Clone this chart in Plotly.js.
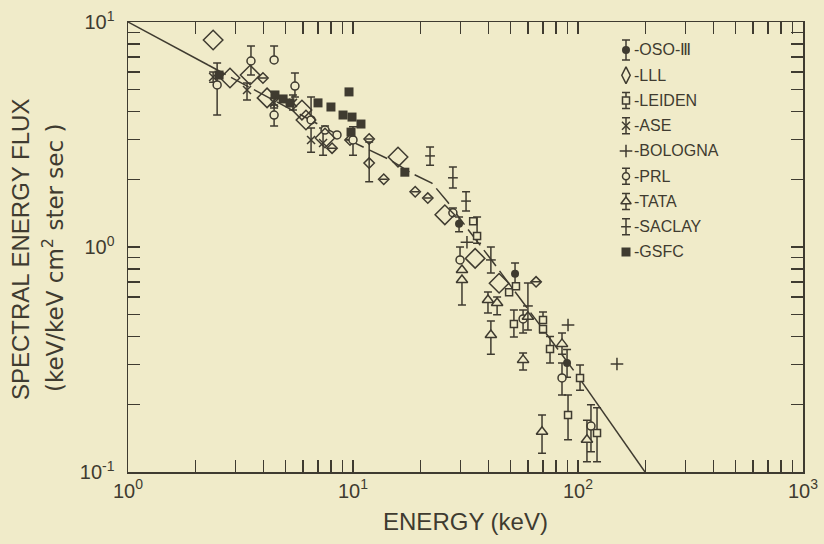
<!DOCTYPE html>
<html>
<head>
<meta charset="utf-8">
<script src="https://cdn.plot.ly/plotly-3.0.1.min.js"></script>
<style>
  html, body { margin: 0; padding: 0; background: #f0ebc9; }
  #chart { width: 824px; height: 544px; }
</style>
</head>
<body>
<div id="chart"></div>
<script>
// Cosmic X-ray background spectrum: energy flux vs photon energy (log-log)

// Fitted spectrum curve
const curveE = [1, 2.27, 8.58, 14.6, 18.5, 22.4, 26.4, 33.1, 40.6, 99.0, 198.5];
const curveF = [10, 6.44, 3.15, 2.44, 2.11, 1.925, 1.58, 1.166, 0.894, 0.27, 0.1];

// OSO-III
const osoE = [29.6, 52.5, 89.4];
const osoF = [1.27, 0.76, 0.305];
const osoHi = [1.36, 0.85, 0.35];
const osoLo = [1.17, 0.66, 0.264];

// LLL (small symbols)
const lllE = [3.98, 8.07, 9.7, 11.8, 11.8, 13.7, 18.9, 21.5, 65.1];
const lllF = [5.64, 2.75, 2.99, 3.02, 2.36, 2.0, 1.76, 1.65, 0.70];
const lllHi = [null, null, null, null, 2.93, null, null, null, null];
const lllLo = [null, null, null, null, 1.95, null, null, null, null];

// LLL (large symbols)
const lllBigE = [2.39, 2.84, 3.49, 4.15, 5.93, 6.18, 7.51, 15.85, 25.6, 34.9, 44.6];
const lllBigF = [8.32, 5.64, 5.81, 4.6, 4.06, 3.67, 3.05, 2.51, 1.39, 0.89, 0.69];

// LEIDEN
const leidenE = [34.2, 35.6, 49.4, 53.0, 51.9, 69.9, 69.9, 75.1, 102.1, 90.3, 121.5];
const leidenF = [1.30, 1.12, 0.63, 0.67, 0.455, 0.474, 0.432, 0.352, 0.262, 0.179, 0.149];
const leidenHi = [null, 1.36, null, null, 0.525, 0.514, 0.432, 0.40, 0.299, 0.22, 0.193];
const leidenLo = [null, 1.04, null, null, 0.398, 0.474, 0.415, 0.305, 0.231, 0.139, 0.111];

// ASE
const aseE = [2.39, 3.38, 4.46, 5.41, 6.51, 7.36];
const aseF = [5.70, 4.99, 4.37, 4.37, 2.99, 2.90];
const aseHi = [6.0, 5.36, 4.6, 4.74, 3.38, 3.38];
const aseLo = [5.4, 4.5, 4.15, 4.06, 2.64, 2.56];

// BOLOGNA
const bolE = [32.1, 90.3, 149.0];
const bolF = [1.05, 0.45, 0.302];

// PRL
const prlE = [2.49, 3.52, 4.46, 4.46, 5.52, 6.51, 7.51, 8.49, 10.0, 27.8, 29.9, 57.0, 84.9, 114.2];
const prlF = [5.25, 6.71, 6.78, 3.86, 5.19, 3.67, 3.31, 3.15, 2.99, 1.42, 0.876, 0.479, 0.262, 0.160];
const prlHi = [6.58, 7.83, 7.83, 4.28, 5.93, 4.64, 3.45, null, 3.42, 1.49, 1.0, 0.525, 0.305, 0.199];
const prlLo = [3.86, 5.81, 6.78, 3.45, 4.64, 3.67, 3.31, null, 2.56, 1.42, 0.876, 0.415, 0.22, 0.123];

// TATA
const tataE = [30.5, 30.5, 39.8, 43.7, 41.0, 57.0, 59.9, 84.9, 69.2, 109.6];
const tataF = [0.79, 0.713, 0.581, 0.564, 0.406, 0.315, 0.49, 0.371, 0.151, 0.139];
const tataHi = [null, 0.713, 0.631, 0.60, 0.469, 0.338, null, 0.415, 0.179, 0.17];
const tataLo = [null, 0.553, 0.509, 0.50, 0.334, 0.284, null, 0.334, 0.121, 0.111];

// SACLAY
const saclayE = [22.0, 27.8, 31.8, 41.0, 59.9];
const saclayF = [2.54, 2.03, 1.60, 0.876, 0.547];
const saclayHi = [2.78, 2.27, 1.76, 1.0, 0.692];
const saclayLo = [2.31, 1.83, 1.445, 0.766, 0.428];

// GSFC
const gsfcE = [2.54, 4.5, 4.89, 5.25, 6.99, 7.98, 9.03, 9.6, 9.9, 10.85, 9.8, 17.0];
const gsfcF = [5.81, 4.74, 4.55, 4.365, 4.37, 4.19, 3.86, 4.89, 3.78, 3.52, 3.24, 2.15];

// Key entries, top to bottom
const keyNames = ['-OSO-Ⅲ', '-LLL', '-LEIDEN', '-ASE', '-BOLOGNA', '-PRL', '-TATA', '-SACLAY', '-GSFC'];

// Axis ticks: labelled decades plus unlabelled minor ticks
const xTickVals = [1, 10, 100, 1000];
const xTickText = ['10<sup>0</sup>', '10<sup>1</sup>', '10<sup>2</sup>', '10<sup>3</sup>'];
const xMinorVals = [2,3,4,5,6,7,8,9,20,30,40,50,60,70,80,90,200,300,400,500,600,700,800,900];
const yTickVals = [0.1, 1, 10];
const yTickText = ['10<sup>-1</sup>', '10<sup>0</sup>', '10<sup>1</sup>'];
const yMinorVals = [0.2,0.3,0.4,0.5,0.6,0.7,0.8,0.9,2,3,4,5,6,7,8,9];

const INK = '#3f3b30';
const BG = '#f0ebc9';
const FONT = 'Liberation Sans, Arial, sans-serif';

// plot frame in pixels (used for the key and the side titles)
const W = 824, H = 544, ML = 128, MR = 21, MT = 22, MB = 72;
const PW = W - ML - MR, PH = H - MT - MB;
const px2x = p => (p - ML) / PW;
const px2y = p => 1 - (p - MT) / PH;

function errBars(val, hi, lo) {
  const up = val.map((v, i) => (hi[i] == null ? null : hi[i] - v));
  const dn = val.map((v, i) => (lo[i] == null ? null : v - lo[i]));
  return { type: 'data', symmetric: false, array: up, arrayminus: dn,
           color: INK, thickness: 1.5, width: 4 };
}

// marker styles per instrument
const styles = {
  oso:    { symbol: 'circle', size: 8, color: INK },
  lll:    { symbol: 'diamond-open', size: 8, color: INK, line: { width: 1.5 } },
  lllBig: { symbol: 'diamond-open', size: 15, color: INK, line: { width: 1.5 } },
  leiden: { symbol: 'square', size: 7, color: BG, line: { color: INK, width: 1.5 } },
  ase:    { symbol: 'x-thin-open', size: 8, color: INK, line: { width: 1.5 } },
  bol:    { symbol: 'cross-thin-open', size: 9, color: INK, line: { width: 1.5 } },
  prl:    { symbol: 'circle', size: 8, color: BG, line: { color: INK, width: 1.5 } },
  tata:   { symbol: 'triangle-up', size: 10, color: BG, line: { color: INK, width: 1.5 } },
  saclay: { symbol: 'line-ew-open', size: 7, color: INK, line: { width: 1.5 } },
  gsfc:   { symbol: 'square', size: 9, color: INK }
};

// split the fitted curve: solid at the ends, dashed through the data
const splitLo = 1, splitHi = 9;
const traces = [
  { x: curveE.slice(0, splitLo + 1), y: curveF.slice(0, splitLo + 1), mode: 'lines',
    line: { color: INK, width: 1.5 } },
  { x: curveE.slice(splitLo, splitHi + 1), y: curveF.slice(splitLo, splitHi + 1), mode: 'lines',
    line: { color: INK, width: 1.5, dash: '20px,6px' } },
  { x: curveE.slice(splitHi), y: curveF.slice(splitHi), mode: 'lines',
    line: { color: INK, width: 1.5 } },

  { x: osoE, y: osoF, mode: 'markers', error_y: errBars(osoF, osoHi, osoLo), marker: styles.oso },
  { x: lllE, y: lllF, mode: 'markers', error_y: errBars(lllF, lllHi, lllLo), marker: styles.lll },
  { x: leidenE, y: leidenF, mode: 'markers', error_y: errBars(leidenF, leidenHi, leidenLo), marker: styles.leiden },
  { x: aseE, y: aseF, mode: 'markers', error_y: errBars(aseF, aseHi, aseLo), marker: styles.ase },
  { x: bolE, y: bolF, mode: 'markers', marker: styles.bol },
  { x: prlE, y: prlF, mode: 'markers', error_y: errBars(prlF, prlHi, prlLo), marker: styles.prl },
  { x: tataE, y: tataF, mode: 'markers', error_y: errBars(tataF, tataHi, tataLo), marker: styles.tata },
  { x: saclayE, y: saclayF, mode: 'markers', error_y: errBars(saclayF, saclayHi, saclayLo), marker: styles.saclay },
  { x: gsfcE, y: gsfcF, mode: 'markers', marker: styles.gsfc },
  { x: lllBigE, y: lllBigF, mode: 'markers', marker: styles.lllBig }
];

// Key: one glyph per instrument drawn on an overlay axis, with its label beside it
const keyGlyphs = [
  { m: styles.oso, bar: 10 },
  { m: { symbol: 'diamond-tall-open', size: 12, color: INK, line: { width: 1.5 } }, bar: 0 },
  { m: styles.leiden, bar: 8 },
  { m: styles.ase, bar: 8 },
  { m: styles.bol, bar: 0 },
  { m: Object.assign({}, styles.prl, { size: 7 }), bar: 8 },
  { m: Object.assign({}, styles.tata, { size: 9 }), bar: 8 },
  { m: styles.saclay, bar: 8 },
  { m: styles.gsfc, bar: 0 }
];
const keyX = 626, keyTextX = 632, keyTop = 50, keyStep = 25.25;
const annotations = [];
keyNames.forEach((name, i) => {
  const rowY = keyTop + keyStep * i;
  const g = keyGlyphs[i];
  const t = { x: [px2x(keyX)], y: [px2y(rowY)], xaxis: 'x2', yaxis: 'y2', mode: 'markers', marker: g.m };
  if (g.bar) t.error_y = { type: 'constant', value: g.bar / PH, color: INK, thickness: 1.5, width: 4 };
  traces.push(t);
  annotations.push({ text: name, xref: 'paper', yref: 'paper', x: px2x(keyTextX), y: px2y(rowY),
    xanchor: 'left', yanchor: 'middle', showarrow: false,
    font: { family: FONT, size: 16, color: INK } });
});
traces.forEach(t => { t.showlegend = false; t.hoverinfo = 'skip'; });

// side title, two rotated lines
annotations.push(
  { text: 'SPECTRAL ENERGY FLUX', xref: 'paper', yref: 'paper',
    x: px2x(20), y: px2y(250), xanchor: 'center', yanchor: 'middle',
    textangle: -90, showarrow: false, font: { family: FONT, size: 24, color: INK } },
  { text: '(keV/keV cm<sup>2</sup> ster sec )', xref: 'paper', yref: 'paper',
    x: px2x(53), y: px2y(258), xanchor: 'center', yanchor: 'middle',
    textangle: -90, showarrow: false, font: { family: 'DejaVu Sans, sans-serif', size: 23, color: INK } }
);

const axisCommon = {
  type: 'log', showgrid: false, zeroline: false,
  showline: true, linecolor: INK, linewidth: 1.5, mirror: 'ticks',
  ticks: 'inside', ticklen: 12, tickwidth: 1.5, tickcolor: INK,
  tickmode: 'array', tickfont: { family: FONT, size: 20, color: INK }
};
const minorCommon = { tickmode: 'array', ticks: 'inside', ticklen: 12, tickwidth: 1.5, tickcolor: INK, showgrid: false };

const layout = {
  width: W, height: H,
  margin: { l: ML, r: MR, t: MT, b: MB },
  paper_bgcolor: BG, plot_bgcolor: BG,
  font: { family: FONT, color: INK },
  showlegend: false,
  xaxis: Object.assign({}, axisCommon, {
    range: [0, 3], tickvals: xTickVals, ticktext: xTickText,
    minor: Object.assign({ tickvals: xMinorVals }, minorCommon),
    title: { text: 'ENERGY (keV)', font: { family: FONT, size: 24, color: INK }, standoff: 12 }
  }),
  yaxis: Object.assign({}, axisCommon, {
    range: [-1, 1], tickvals: yTickVals, ticktext: yTickText, ticklabelstandoff: 8,
    minor: Object.assign({ tickvals: yMinorVals }, minorCommon)
  }),
  xaxis2: { overlaying: 'x', anchor: 'y2', range: [0, 1], visible: false, fixedrange: true },
  yaxis2: { overlaying: 'y', anchor: 'x2', range: [0, 1], visible: false, fixedrange: true },
  annotations: annotations
};

Plotly.newPlot('chart', traces, layout, { displayModeBar: false, staticPlot: true });
</script>
</body>
</html>
